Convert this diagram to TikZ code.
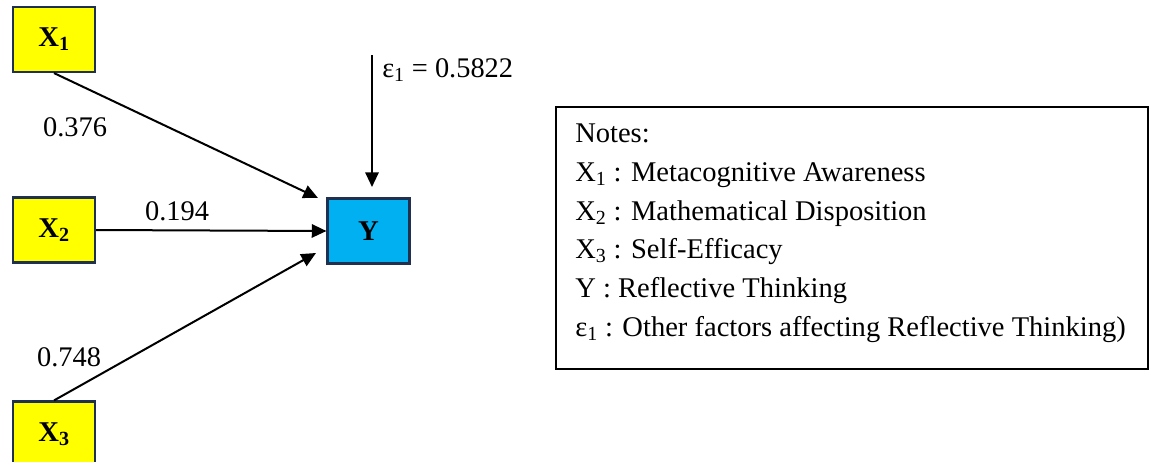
\documentclass[tikz,border=0pt]{standalone}
\usepackage{fontspec}
\setmainfont{Liberation Serif}
\usetikzlibrary{arrows.meta}
\definecolor{xfill}{HTML}{FFFF00}
\definecolor{yfill}{HTML}{00B0F0}
\definecolor{bord}{HTML}{1F3050}
\tikzset{
  varbox/.style={draw=bord, line width=1.6pt, minimum width=61.5pt, minimum height=48.75pt, inner sep=0pt, font=\fontsize{21.5}{24}\selectfont\bfseries},
  xbox/.style={varbox, fill=xfill},
  ybox/.style={varbox, fill=yfill},
  path/.style={line width=1.5pt, -{Triangle[length=11pt,width=10pt]}},
  coef/.style={font=\fontsize{21.3}{24}\selectfont, inner sep=0pt},
  noteline/.style={font=\fontsize{21.4}{24}\selectfont, inner sep=0pt, anchor=base west}
}
\begin{document}
\begin{tikzpicture}[x=0.75pt, y=-0.75pt]
\useasboundingbox (0,0) rectangle (1153,461);
\clip (0,0) rectangle (1153,461);
\node[xbox] (x1) at (54,39.5) {X\textsubscript{1}};
\node[xbox] (x2) at (54,230) {X\textsubscript{2}};
\node[xbox] (x3) at (54,434) {X\textsubscript{3}};
\node[ybox] (y) at (368.5,231) {Y};
\coordinate (e) at (372,55);
\coordinate (et) at (372,187);
\coordinate (y1) at (318,198);
\coordinate (y3) at (316,253);
\draw[path] (x1.south) -- (y1);
\draw[path] (x2.east) -- (y.west);
\draw[path] (x3.north) -- (y3);
\draw[path] (e) -- (et);
\node[coef] (c1) at (75,127) {0.376};
\node[coef] (c2) at (177,211) {0.194};
\node[coef] (c3) at (69,357) {0.748};
\node[coef, anchor=west] (el) at (382,70) {ε\textsubscript{1} = 0.5822};
\node[draw, line width=1.5pt, minimum width=444pt, minimum height=196.5pt, inner sep=0pt, anchor=north west] (notes) at (555,106) {};
\node[noteline] (n0) at (575,142) {Notes:};
\node[noteline] (n1) at (575,181) {X\textsubscript{1} : Metacognitive Awareness};
\node[noteline] (n2) at (575,220) {X\textsubscript{2} : Mathematical Disposition};
\node[noteline] (n3) at (575,258) {X\textsubscript{3} : Self-Efficacy};
\node[noteline] (n4) at (575,297) {Y : Reflective Thinking};
\node[noteline] (n5) at (575,336) {ε\textsubscript{1} : Other factors affecting Reflective Thinking)};
\end{tikzpicture}
\end{document}
